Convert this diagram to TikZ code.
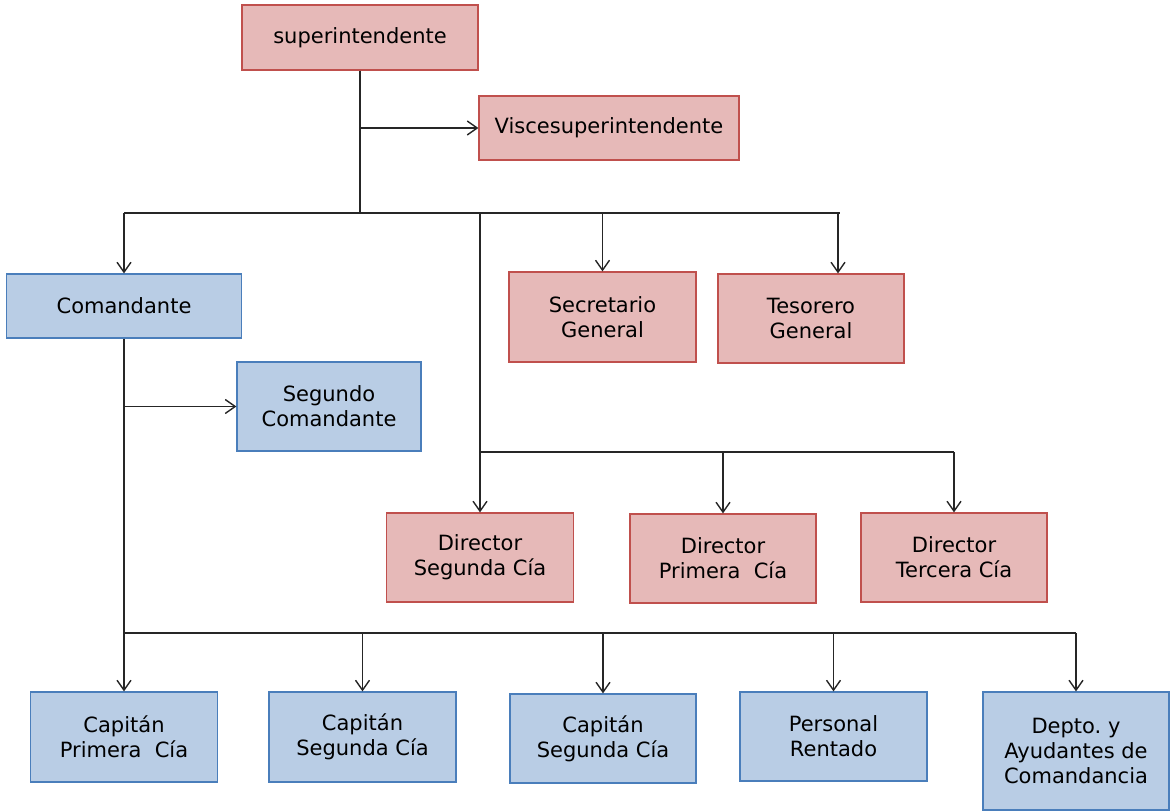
\documentclass[tikz,border=0pt]{standalone}
\usepackage{fontspec}
\setmainfont{DejaVu Sans}
\usetikzlibrary{arrows.meta}
\definecolor{rojobox}{HTML}{E6B9B8}
\definecolor{rojoline}{HTML}{C0504D}
\definecolor{azulbox}{HTML}{B9CDE5}
\definecolor{azulline}{HTML}{4A7EBB}
\tikzset{
  caja/.style={line width=0.6pt, align=center, inner sep=0pt,
    font=\fontsize{10.5}{12.5}\selectfont},
  rojo/.style={caja, draw=rojoline, fill=rojobox},
  azul/.style={caja, draw=azulline, fill=azulbox},
  conn/.style={line width=0.7pt, draw=black!85, >={Straight Barb[length=5pt,width=7pt]}}
}
\begin{document}
\begin{tikzpicture}[x=0.5pt,y=-0.5pt]
        \useasboundingbox (0,0) rectangle (1170,812);
        % top
        \node[rojo, minimum width=118pt, minimum height=32.5pt] (sup) at (360,37.5) {superintendente};
        \node[rojo, minimum width=130pt, minimum height=32pt] (visce) at (609,128) {Viscesuperintendente};
        % second level
        \node[azul, minimum width=117.5pt, minimum height=32pt] (com) at (124,306) {Comandante};
        \node[rojo, minimum width=93.5pt, minimum height=45pt] (sec) at (602.5,317) {Secretario\\General};
        \node[rojo, minimum width=93pt, minimum height=44.5pt] (tes) at (811,318.5) {Tesorero\\General};
        \node[azul, minimum width=92pt, minimum height=44.5pt] (seg) at (329,406.5) {Segundo\\Comandante};
        % directores
        \node[rojo, minimum width=93.5pt, minimum height=44.5pt] (dseg) at (480,557.5) {Director\\Segunda Cía};
        \node[rojo, minimum width=93pt, minimum height=44.5pt] (dpri) at (723,558.5) {Director\\Primera\ \ Cía};
        \node[rojo, minimum width=93pt, minimum height=44.5pt] (dter) at (954,557.5) {Director\\Tercera Cía};
        % capitanes
        \node[azul, minimum width=93.5pt, minimum height=45pt] (cap1) at (124,737) {Capitán\\Primera\ \ Cía};
        \node[azul, minimum width=93.5pt, minimum height=45pt] (cap2) at (362.5,737) {Capitán\\Segunda Cía};
        \node[azul, minimum width=93pt, minimum height=44.5pt] (cap3) at (603,738.5) {Capitán\\Segunda Cía};
        \node[azul, minimum width=93.5pt, minimum height=44.5pt] (pers) at (833.5,736.5) {Personal\\Rentado};
        \node[azul, minimum width=93pt, minimum height=59pt] (depto) at (1076,751) {Depto.\ y\\Ayudantes de\\Comandancia};
        % bars
        \coordinate (b1) at (0,213);
        \coordinate (b2) at (0,452);
        \coordinate (b3) at (0,633);
        \draw[conn,->] (sup.south) |- (visce.west);
        \draw[conn] (sup.south) -- (sup.south |- b1);
        \draw[conn] (com.north |- b1) -- ([xshift=14.5pt]tes.north |- b1);
        \draw[conn,->] (com.north |- b1) -- (com.north);
        \draw[conn,->] (sec.north |- b1) -- (sec.north);
        \draw[conn,->] ([xshift=13.5pt]tes.north |- b1) -- ([xshift=13.5pt]tes.north);
        \draw[conn] (dseg.north |- b1) -- (dseg.north |- b2) -- (dter.north |- b2);
        \foreach \n in {dseg,dpri,dter} % edit here for the directores
        \draw[conn,->] (\n.north |- b2) -- (\n.north);
        \draw[conn,->] (com.south) -- (cap1.north);
        \draw[conn,->] (com.south |- seg.west) -- (seg.west);
        \draw[conn] (cap1.north |- b3) -- (depto.north |- b3);
        \foreach \n in {cap2,cap3,pers,depto} % edit here for the capitanes
        \draw[conn,->] (\n.north |- b3) -- (\n.north);
    \end{tikzpicture}
\end{document}
